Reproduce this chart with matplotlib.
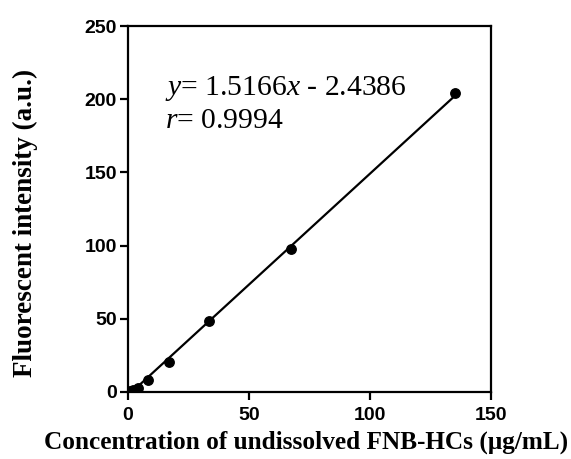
import numpy as np
import matplotlib
matplotlib.use("Agg")
import matplotlib.pyplot as plt

# Calibration data
conc = np.array([1.05, 2.1, 4.2, 8.4, 16.9, 33.7, 67.5, 135.0])
intensity = np.array([0.5, 1.2, 2.5, 8.5, 20.5, 48.5, 97.5, 204.0])
slope, intercept, r_val = 1.5166, -2.4386, 0.9994

x_ticks = [0, 50, 100, 150]
y_ticks = [0, 50, 100, 150, 200, 250]

plt.rcParams['mathtext.fontset'] = 'custom'
plt.rcParams['mathtext.rm'] = 'Liberation Serif'
plt.rcParams['mathtext.it'] = 'Liberation Serif:italic'

fig = plt.figure(figsize=(5.71, 4.59), dpi=100)
ax = fig.add_axes([0.224, 0.146, 0.636, 0.797])

ax.plot(conc, intensity, 'o', color='black', markersize=6.8, zorder=3)
xfit = np.array([conc.min(), conc.max()])
ax.plot(xfit, slope * xfit + intercept, '-', color='black', linewidth=1.6)

ax.set_xlim(0, 150)
ax.set_ylim(0, 250)
ax.set_xticks(x_ticks)
ax.set_yticks(y_ticks)
for s in ax.spines.values():
    s.set_linewidth(1.6)
ax.tick_params(direction='out', length=6, width=1.6)
ax.tick_params(axis='x', pad=5)
ax.tick_params(axis='y', pad=2)
for lab in ax.get_xticklabels() + ax.get_yticklabels():
    lab.set_family('Liberation Sans')
    lab.set_fontweight('bold')
    lab.set_fontsize(14)

ax.set_xlabel("Concentration of undissolved FNB-HCs (\u03bcg/mL)",
              family='Liberation Serif', fontweight='bold', fontsize=18.2)
ax.set_ylabel("Fluorescent intensity (a.u.)",
              family='Liberation Serif', fontweight='bold', fontsize=19.5)
ax.xaxis.set_label_coords(0.49, -0.105)
ax.yaxis.set_label_coords(-0.247, 0.462)

ax.text(0.102, 0.811, r"$y$= 1.5166$x$ - 2.4386", transform=ax.transAxes,
        family='Liberation Serif', fontsize=21.3, va='baseline')
ax.text(0.102, 0.721, r"$r$= " + f"{r_val:.4f}", transform=ax.transAxes,
        family='Liberation Serif', fontsize=21.3, va='baseline')

plt.savefig("out.png", dpi=100)
